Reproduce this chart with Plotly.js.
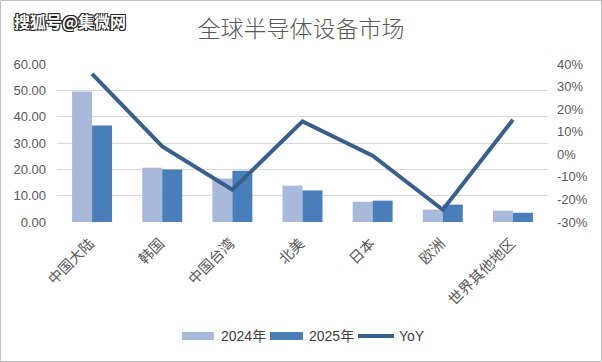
<!DOCTYPE html>
<html><head><meta charset="utf-8">
<script src="https://cdn.plot.ly/plotly-3.0.1.min.js"></script>
<style>html,body{margin:0;padding:0;background:#fff}#c{width:602px;height:362px}</style>
</head><body><div id="c"></div>
<script>
const categories = ['中国大陆','韩国','中国台湾','北美','日本','欧洲','世界其他地区'];
const values2024 = [49.6, 20.6, 16.5, 13.8, 7.7, 4.7, 4.3];
const values2025 = [36.6, 19.9, 19.5, 12.0, 8.1, 6.6, 3.5];
const yoy = [0.356, 0.035, -0.157, 0.146, -0.006, -0.246, 0.153];
const leftTicks = [0,10,20,30,40,50,60];
const rightTicks = [-0.3,-0.2,-0.1,0,0.1,0.2,0.3,0.4];
const seriesNames = ['2024年','2025年','YoY'];
const colors = ['#A9B9DA','#4A7EBB','#3B5F8C'];

const tickFont = {family:'Liberation Sans, Noto Sans CJK SC, sans-serif', size:13, color:'#595959'};
const traces = [
  {type:'bar', name:seriesNames[0], x:categories, y:values2024, marker:{color:colors[0]}, hoverinfo:'skip'},
  {type:'bar', name:seriesNames[1], x:categories, y:values2025, marker:{color:colors[1]}, hoverinfo:'skip'},
  {type:'scatter', mode:'lines', name:seriesNames[2], x:categories, y:yoy, yaxis:'y2', line:{color:colors[2], width:4}, hoverinfo:'skip'}
];
const legFont = {family:'Liberation Sans, Noto Sans CJK SC, sans-serif', size:14, color:'#404040'};
const px = v => (v-57)/491, py = v => (222-v)/158;
const layout = {
  width:602, height:362,
  margin:{l:57, r:54, t:64, b:140},
  paper_bgcolor:'#fff', plot_bgcolor:'#fff',
  barmode:'group', bargap:0.43, bargroupgap:0,
  showlegend:false,
  title:{text:'全球半导体设备市场', x:0.5, xanchor:'center', xref:'container', y:1-29/362, yanchor:'middle', yref:'container',
    font:{family:'Noto Sans CJK SC, sans-serif', size:23, color:'#595959', weight:300}},
  xaxis:{type:'category', tickangle:-45, tickfont:{family:'Noto Sans CJK SC, sans-serif', size:14.5, color:'#595959'},
    ticklabelstandoff:9, ticklabelshift:-2,
    showgrid:false, showline:false, ticks:'', zeroline:false},
  yaxis:{range:[0,60], tickvals:leftTicks, ticktext:leftTicks.map(v=>v.toFixed(2)), tickfont:tickFont, ticklabelstandoff:10,
    showgrid:true, gridcolor:'#D9D9D9', gridwidth:1, zeroline:false, showline:false, ticks:''},
  yaxis2:{overlaying:'y', side:'right', range:[-0.3,0.4], tickvals:rightTicks, ticklabelstandoff:8,
    ticktext:rightTicks.map(v=>Math.round(v*100)+'%'), tickfont:tickFont,
    showgrid:false, zeroline:false, showline:false, ticks:''},
  annotations:[
    {text:'<b>搜狐号@集微网</b>', xref:'paper', yref:'paper', x:px(12), y:py(21), xanchor:'left', yanchor:'middle',
      showarrow:false, font:{family:'Noto Sans CJK SC, sans-serif', size:16, color:'#ffffff',
      shadow:'1px 1px 0 #222, -1px -1px 0 #222, 1px -1px 0 #222, -1px 1px 0 #222'}},
    {text:seriesNames[0], xref:'paper', yref:'paper', x:px(219), y:py(336), xanchor:'left', yanchor:'middle', showarrow:false, font:legFont},
    {text:seriesNames[1], xref:'paper', yref:'paper', x:px(307), y:py(336), xanchor:'left', yanchor:'middle', showarrow:false, font:legFont},
    {text:seriesNames[2], xref:'paper', yref:'paper', x:px(397), y:py(336), xanchor:'left', yanchor:'middle', showarrow:false, font:legFont}
  ],
  shapes:[
    {type:'rect', xref:'paper', yref:'paper', x0:px(0.5), x1:px(601.5), y0:py(361.5), y1:py(0.5), line:{color:'#BFBFBF', width:1}},
    {type:'rect', xref:'paper', yref:'paper', x0:px(182), x1:px(214), y0:py(340), y1:py(332), fillcolor:colors[0], line:{width:0}},
    {type:'rect', xref:'paper', yref:'paper', x0:px(270), x1:px(303), y0:py(340), y1:py(332), fillcolor:colors[1], line:{width:0}},
    {type:'line', xref:'paper', yref:'paper', x0:px(358), x1:px(394), y0:py(336), y1:py(336), line:{color:colors[2], width:4}}
  ]
};
Plotly.newPlot('c', traces, layout, {displayModeBar:false, staticPlot:true});
</script></body></html>
